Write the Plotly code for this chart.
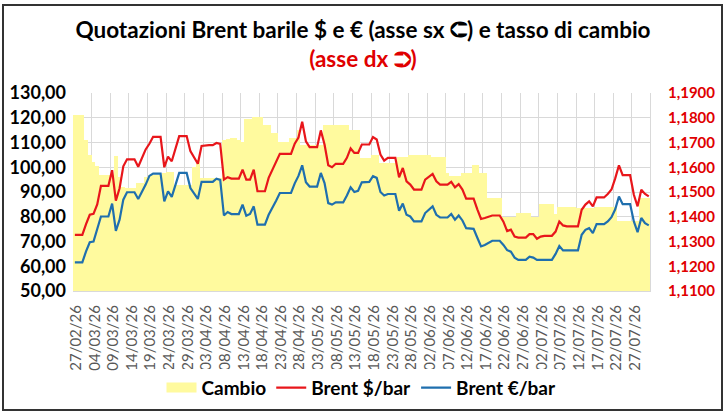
import plotly.graph_objects as go
import pandas as pd

# daily values, 27/02/26 -> 31/07/26 (weekends carry Friday's quote)
start_date = "2026-02-27"

brent_usd = [
    72.7, 72.7, 72.7, 77.0, 80.8, 81.2, 85.0, 92.5, 92.5, 92.5,
    98.8, 86.5, 91.5, 100.4, 103.2, 103.2, 103.2, 100.2, 104.0, 107.2,
    109.5, 112.3, 112.3, 112.3, 100.0, 104.3, 102.4, 107.8, 112.6, 112.6,
    112.6, 106.5, 104.0, 101.4, 108.6, 108.9, 108.9, 108.9, 109.8, 109.4,
    95.0, 96.0, 95.4, 95.4, 95.4, 99.0, 95.0, 95.0, 99.0, 90.3,
    90.3, 90.3, 95.7, 99.0, 102.0, 105.4, 105.4, 105.4, 105.4, 109.5,
    112.0, 118.4, 110.5, 108.1, 108.1, 108.1, 114.9, 109.2, 100.8, 100.0,
    101.4, 101.4, 101.4, 103.8, 107.6, 105.8, 105.8, 109.2, 109.2, 109.2,
    112.2, 111.2, 105.1, 102.7, 103.8, 103.8, 103.8, 95.9, 99.7, 94.3,
    93.0, 91.0, 91.0, 91.0, 95.0, 96.2, 97.3, 94.3, 93.0, 93.0,
    93.0, 94.1, 91.9, 93.2, 91.0, 87.3, 87.3, 87.3, 83.0, 79.1,
    79.5, 80.0, 80.5, 80.5, 80.5, 78.0, 74.2, 74.8, 72.0, 71.6,
    71.6, 71.6, 73.0, 73.0, 71.1, 72.0, 72.3, 72.3, 72.3, 74.0,
    78.1, 76.5, 76.1, 76.1, 76.1, 76.1, 82.8, 84.9, 86.2, 84.2,
    87.8, 87.8, 87.8, 89.2, 91.0, 95.5, 100.8, 96.8, 96.8, 96.8,
    88.9, 84.2, 90.9, 89.2, 88.2,
]

brent_eur = [
    61.6, 61.6, 61.6, 66.0, 69.7, 70.0, 75.0, 80.1, 80.1, 80.1,
    85.3, 74.3, 78.8, 86.9, 89.9, 89.9, 89.9, 87.2, 90.0, 93.0,
    96.5, 97.4, 97.4, 97.4, 86.2, 90.3, 88.0, 93.2, 97.7, 97.7,
    97.7, 91.6, 89.5, 87.2, 94.1, 94.1, 94.1, 94.1, 95.4, 94.9,
    80.5, 81.9, 81.1, 81.1, 81.1, 84.9, 80.4, 81.1, 84.2, 76.8,
    76.8, 76.8, 80.8, 83.5, 86.5, 89.6, 89.6, 89.6, 89.6, 93.5,
    96.5, 100.8, 93.9, 92.2, 92.2, 92.2, 97.7, 93.6, 85.5, 84.9,
    85.8, 85.8, 85.8, 88.6, 91.9, 90.0, 90.5, 93.9, 94.1, 94.1,
    96.4, 95.7, 90.0, 88.6, 89.2, 89.2, 89.2, 82.4, 85.3, 80.8,
    80.1, 78.1, 78.1, 78.1, 81.5, 83.0, 84.2, 80.8, 79.7, 79.7,
    79.7, 81.1, 78.8, 80.5, 78.5, 75.4, 75.1, 75.1, 71.5, 68.0,
    68.6, 69.5, 70.3, 70.3, 70.3, 68.6, 66.5, 65.9, 63.5, 62.6,
    62.6, 62.6, 63.9, 63.5, 62.6, 62.6, 62.6, 62.6, 62.6, 65.0,
    68.2, 66.4, 66.4, 66.4, 66.4, 66.4, 72.7, 74.7, 75.4, 73.4,
    77.0, 77.0, 77.0, 78.1, 79.8, 83.0, 88.2, 85.1, 85.1, 85.1,
    78.1, 73.8, 79.5, 77.4, 76.5,
]

cambio = [
    1.1810, 1.1810, 1.1810, 1.1710, 1.1650, 1.1620, 1.1605, 1.1570, 1.1570, 1.1570,
    1.1570, 1.1646, 1.1560, 1.1520, 1.1516, 1.1516, 1.1516, 1.1535, 1.1535, 1.1560,
    1.1570, 1.1570, 1.1570, 1.1570, 1.1575, 1.1580, 1.1580, 1.1530, 1.1528, 1.1528,
    1.1528, 1.1530, 1.1600, 1.1630, 1.1555, 1.1555, 1.1555, 1.1555, 1.1555, 1.1555,
    1.1710, 1.1715, 1.1720, 1.1720, 1.1710, 1.1704, 1.1795, 1.1795, 1.1805, 1.1805,
    1.1805, 1.1772, 1.1772, 1.1739, 1.1739, 1.1704, 1.1704, 1.1704, 1.1718, 1.1718,
    1.1751, 1.1690, 1.1690, 1.1690, 1.1690, 1.1690, 1.1690, 1.1772, 1.1772, 1.1772,
    1.1772, 1.1772, 1.1772, 1.1772, 1.1751, 1.1751, 1.1751, 1.1638, 1.1638, 1.1638,
    1.1650, 1.1650, 1.1617, 1.1617, 1.1617, 1.1617, 1.1617, 1.1643, 1.1643, 1.1643,
    1.1650, 1.1650, 1.1650, 1.1650, 1.1650, 1.1650, 1.1643, 1.1643, 1.1643, 1.1643,
    1.1577, 1.1564, 1.1564, 1.1564, 1.1577, 1.1577, 1.1577, 1.1610, 1.1610, 1.1577,
    1.1577, 1.1476, 1.1476, 1.1476, 1.1476, 1.1400, 1.1400, 1.1400, 1.1400, 1.1415,
    1.1415, 1.1415, 1.1415, 1.1400, 1.1400, 1.1450, 1.1450, 1.1450, 1.1450, 1.1410,
    1.1438, 1.1438, 1.1438, 1.1438, 1.1438, 1.1434, 1.1434, 1.1434, 1.1434, 1.1434,
    1.1441, 1.1441, 1.1441, 1.1441, 1.1441, 1.1441, 1.1383, 1.1383, 1.1383, 1.1383,
    1.1383, 1.1383, 1.1476, 1.1476, 1.1476,
]

# one point per calendar day, centred in its day slot
dates = pd.date_range(start_date, periods=len(cambio), freq="D") + pd.Timedelta(hours=12)

FONT = "Lato"
RED = "#E8161B"
BLUE = "#1F6FAE"
YELLOW = "#FFFA9E"

# plot-area margins (px)
ML, MR, MT, MB = 73, 76, 93, 125
W, H = 726, 416

fig = go.Figure()

# exchange rate as gapless columns (right axis); drawn on the base axis so lines sit on top
fig.add_trace(go.Bar(
    x=dates, y=cambio, name="Cambio", yaxis="y", showlegend=False,
    marker=dict(color=YELLOW, line=dict(width=0)),
    width=86400000,
))
# legend-only entry so the swatch is a wide block like Excel's
fig.add_trace(go.Scatter(
    x=[None], y=[None], name="Cambio", yaxis="y",
    mode="lines", line=dict(color=YELLOW, width=13),
))
fig.add_trace(go.Scatter(
    x=dates, y=brent_usd, name="Brent $/bar", yaxis="y2",
    mode="lines", line=dict(color=RED, width=2.2),
))
fig.add_trace(go.Scatter(
    x=dates, y=brent_eur, name="Brent €/bar", yaxis="y2",
    mode="lines", line=dict(color=BLUE, width=2.2),
))

fig.update_layout(
    width=W, height=H,
    margin=dict(l=ML, r=MR, t=MT, b=MB, autoexpand=False),
    paper_bgcolor="white", plot_bgcolor="white",
    separators=",.",
    bargap=0,
    showlegend=True,
    title=dict(
        text="Quotazioni Brent barile $ e € (asse sx ⮈) e tasso di cambio<br>"
             "<span style='color:#E00000'>(asse dx ⮊)</span>",
        x=0.5, xanchor="center", y=0.909, yanchor="top",
        font=dict(family=FONT, size=22.5, color="black", weight="bold"),
    ),
    legend=dict(
        orientation="h", x=0.5, xanchor="center",
        yref="container", y=0.068, yanchor="middle",
        font=dict(family=FONT, size=19, color="black", weight="bold"),
        traceorder="normal",
    ),
    xaxis=dict(
        type="date", automargin=False,
        range=["2026-02-27", "2026-07-31 20:00"],
        tick0="2026-02-27", dtick=5 * 86400000,
        tickformat="%d/%m/%y", tickangle=-90,
        tickfont=dict(family=FONT, size=15, color="#595959"),
        showgrid=True, gridcolor="#D9D9D9", gridwidth=1,
        showline=True, linecolor="#D9D9D9", ticks="",
        ticklabelshift=3, ticklabelstandoff=7,
    ),
    yaxis=dict(
        side="right", range=[1.11, 1.19], dtick=0.01, tickformat=".4f",
        automargin=False,
        tickfont=dict(family=FONT, size=15, color="#E00000", weight="bold"),
        showgrid=True, gridcolor="#D9D9D9", gridwidth=1,
        zeroline=False, showline=True, linecolor="#D9D9D9",
        ticks="", ticklabelstandoff=14,
    ),
    yaxis2=dict(
        side="left", overlaying="y", range=[50, 130], dtick=10, tickformat=".2f",
        automargin=False,
        tickfont=dict(family=FONT, size=18, color="black", weight="bold"),
        showgrid=False, zeroline=False, showline=False, ticks="",
        ticklabelstandoff=6,
    ),
)

# chart frame
plot_w = W - ML - MR
plot_h = H - MT - MB
fig.add_shape(type="rect", xref="paper", yref="paper",
              x0=(3 - ML) / plot_w, x1=(722 - ML) / plot_w,
              y0=(H - MB - 410) / plot_h, y1=(H - MB - 5) / plot_h,
              line=dict(color="#333333", width=2), layer="above")

# drop the page's default body margin so the figure sits at the window corner
fig.write_html("out.html", config={"displayModeBar": False},
               post_script="document.body.style.margin='0';")
